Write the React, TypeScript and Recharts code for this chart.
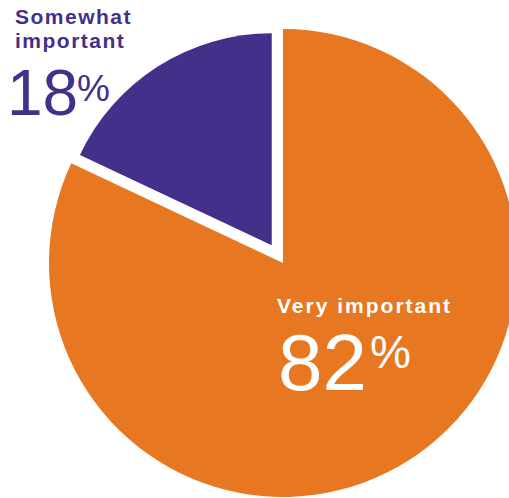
import React from "react";
import { PieChart, Pie, Cell } from "recharts";

// Importance split, shares in percent
const categories = ["Very important", "Somewhat important"];
const shares = [82, 18];

const COLORS = {
  orange: "#E87722",
  purple: "#44308A",
  white: "#ffffff",
};

const data = categories.map((name, i) => ({ name, value: shares[i] }));

const W = 509;
const H = 498;

// main pie geometry
const CX = 283;
const CY = 263;
// the small slice is pulled out along its bisector and drawn a bit smaller
const PULL = 21;
const smallMid = 90 + (shares[1] / 100) * 180; // bisector angle (deg) of the second slice
const pullX = PULL * Math.cos((smallMid * Math.PI) / 180);
const pullY = -PULL * Math.sin((smallMid * Math.PI) / 180);

export default function App() {
  return (
    <div style={{ position: "absolute", left: 0, top: 0, width: W, height: H, background: "#fff" }}>
      <PieChart width={W} height={H} margin={{ top: 0, right: 0, bottom: 0, left: 0 }}>
        <Pie
          data={data}
          dataKey="value"
          nameKey="name"
          cx={CX}
          cy={CY}
          outerRadius={234}
          startAngle={90}
          endAngle={-270}
          stroke="none"
          isAnimationActive={false}
        >
          <Cell fill={COLORS.orange} />
          <Cell fill="transparent" />
        </Pie>
        <Pie
          data={data}
          dataKey="value"
          nameKey="name"
          cx={CX + pullX}
          cy={CY + pullY}
          outerRadius={212}
          startAngle={90}
          endAngle={-270}
          stroke="none"
          isAnimationActive={false}
        >
          <Cell fill="transparent" />
          <Cell fill={COLORS.purple} />
        </Pie>
      </PieChart>
      <svg
        width={W}
        height={H}
        style={{ position: "absolute", left: 0, top: 0, pointerEvents: "none" }}
        fontFamily="'Liberation Sans', Arial, sans-serif"
      >
        <text x={15} y={24} fontSize={21} fontWeight="bold" letterSpacing={1.5} fill={COLORS.purple}>
          Somewhat
        </text>
        <text x={15} y={48} fontSize={21} fontWeight="bold" letterSpacing={1.5} fill={COLORS.purple}>
          important
        </text>
        <text x={7} y={115} fontSize={64} fill={COLORS.purple}>
          {shares[1]}
        </text>
        <text x={77} y={101} fontSize={37} fill={COLORS.purple}>
          %
        </text>

        <text x={277} y={313} fontSize={21} fontWeight="bold" letterSpacing={2} fill={COLORS.white}>
          Very important
        </text>
        <text x={278} y={390} fontSize={80} fill={COLORS.white}>
          {shares[0]}
        </text>
        <text x={370} y={368} fontSize={46} fill={COLORS.white}>
          %
        </text>
      </svg>
    </div>
  );
}
